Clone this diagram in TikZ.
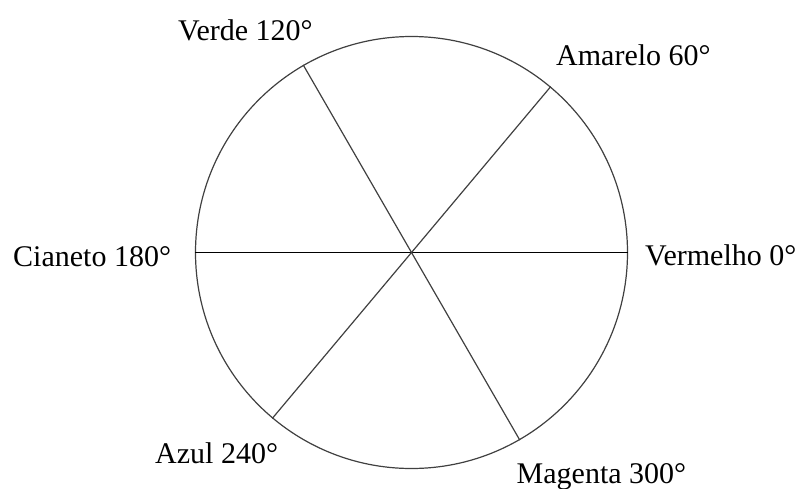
\documentclass[tikz,border=0pt]{standalone}
\usepackage{fontspec}
\setmainfont{Liberation Serif}
\usetikzlibrary{positioning}

\begin{document}
\begin{tikzpicture}[
    x=1pt, y=-1pt,
    font=\fontsize{30}{33}\selectfont,
    wheel/.style={circle, draw=black!75, line width=1.2pt, minimum size=432pt, inner sep=0pt},
    spoke/.style={draw=black!75, line width=1.2pt},
    axisline/.style={draw=black, line width=1.3pt},
    hue/.style={inner sep=0pt, anchor=base west},
  ]
  \useasboundingbox (0,0) rectangle (802,488);

  % colour wheel
  \node[wheel] (wheel) at (411.5,252.5) {};
  \draw[axisline] (wheel.180) -- (wheel.0);
  \draw[spoke] (wheel.120) -- (wheel.300);
  \draw[spoke] (wheel.50) -- (wheel.230);

  % hue labels
  \node[hue] (verm) at (645,265)   {Vermelho 0°};
  \node[hue] (amar) at (556,65)    {Amarelo 60°};
  \node[hue] (verd) at (178,40)    {Verde 120°};
  \node[hue] (cian) at (13,266.5)  {Cianeto 180°};
  \node[hue] (azul) at (155,463)   {Azul 240°};
  \node[hue] (mage) at (516.5,483) {Magenta 300°};
\end{tikzpicture}
\end{document}
